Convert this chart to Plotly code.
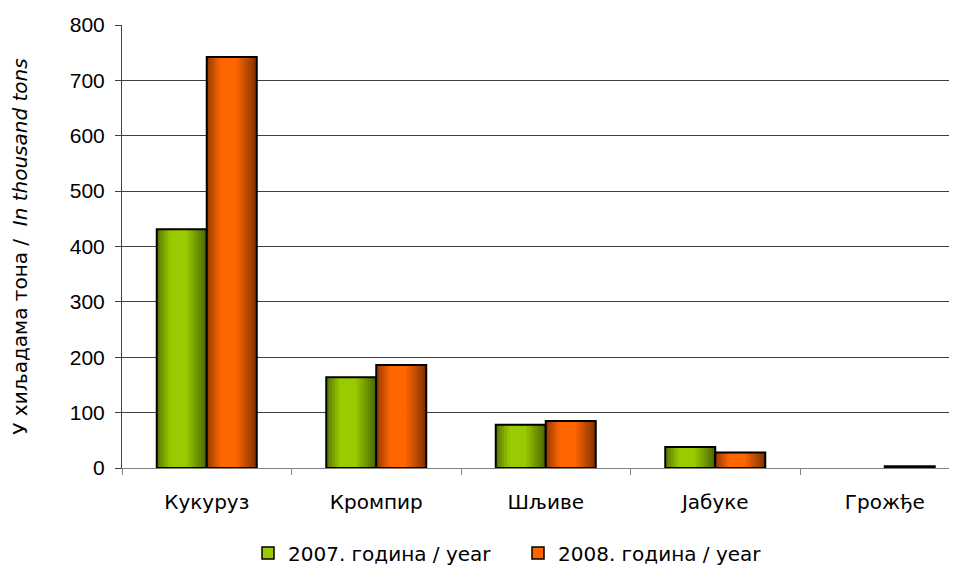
import plotly.graph_objects as go

categories = ["Кукуруз", "Кромпир", "Шљиве", "Јабуке", "Грожђе"]
series_names = ["2007. година / year", "2008. година / year"]
values_2007 = [431, 164, 78, 38, None]
values_2008 = [742, 186, 85, 28, 3]
y_ticks = [0, 100, 200, 300, 400, 500, 600, 700, 800]

series = [values_2007, values_2008]
bright = [(153, 204, 0), (255, 102, 0)]
dark = [(70, 95, 0), (120, 45, 0)]

W = 0.295          # bar width in category units
offsets = [-W, 0.0]
N = 18


def profile(f):
    # brightness profile across a bar (0 = dark, 1 = bright)
    if f < 0.28:
        return 0.2 + 0.8 * (f / 0.28)
    if f < 0.58:
        return 1.0
    return 1.0 - 0.95 * ((f - 0.58) / 0.42)


def mix(c1, c2, t):
    return "rgb(%d,%d,%d)" % tuple(round(a + (b - a) * t) for a, b in zip(c1, c2))


fig = go.Figure()
for s, vals in enumerate(series):
    for i in range(N):
        f0 = i / N
        f1 = (i + 1) / N
        t = profile((f0 + f1) / 2)
        fig.add_trace(go.Bar(
            x=categories, y=vals,
            offset=offsets[s] + W * f0,
            width=W * (f1 - f0) + (0.004 if i < N - 1 else 0),
            marker=dict(color=mix(dark[s], bright[s], t), line=dict(width=0)),
            showlegend=False, hoverinfo="skip",
        ))
    # outline
    fig.add_trace(go.Bar(
        x=categories, y=vals, offset=offsets[s], width=W,
        marker=dict(color="rgba(0,0,0,0)", line=dict(color="black", width=2)),
        showlegend=False, hoverinfo="skip",
    ))

# legend entries
for s in range(2):
    fig.add_trace(go.Bar(
        x=categories, y=[None] * len(categories), name=series_names[s],
        marker=dict(color=mix(dark[s], bright[s], 1.0), line=dict(color="black", width=1.5)),
        showlegend=True,
    ))

# page body has an 8px margin, so compensate
ML, MT = 114, 17
PLOT_H = 443
MB = 566 - MT - PLOT_H
cat_px = 169.5
plot_w = 957 - ML
xmax = plot_w / cat_px - 0.5

fig.update_layout(
    width=957, height=566,
    margin=dict(l=ML, r=0, t=MT, b=MB),
    barmode="overlay",
    plot_bgcolor="white", paper_bgcolor="white",
    font=dict(family="DejaVu Sans", size=20, color="black"),
    legend=dict(orientation="h", x=(248 - 122) / plot_w, xanchor="left", y=-0.148, yanchor="top",
                entrywidth=225, entrywidthmode="pixels",
                font=dict(family="DejaVu Sans", size=20), traceorder="normal"),
    xaxis=dict(range=[-0.5, xmax], tickson="boundaries", ticks="outside", ticklen=6,
               tickcolor="#808080", showline=True, linecolor="#808080", linewidth=1,
               showgrid=False, ticklabelstandoff=16, automargin=False,
               tickfont=dict(family="DejaVu Sans", size=20)),
    yaxis=dict(range=[0, 800], tickvals=y_ticks, ticks="outside", ticklen=6,
               tickcolor="#404040", showline=True, linecolor="#404040", linewidth=1,
               showgrid=True, gridcolor="#404040", gridwidth=1, zeroline=False,
               automargin=False, ticklabelstandoff=6,
               tickfont=dict(family="Liberation Sans", size=21),
               title=dict(text="У хиљадама тона /  <i>In thousand tons</i>",
                          font=dict(family="DejaVu Sans", size=20), standoff=40)),
)

fig.write_html("out.html")
